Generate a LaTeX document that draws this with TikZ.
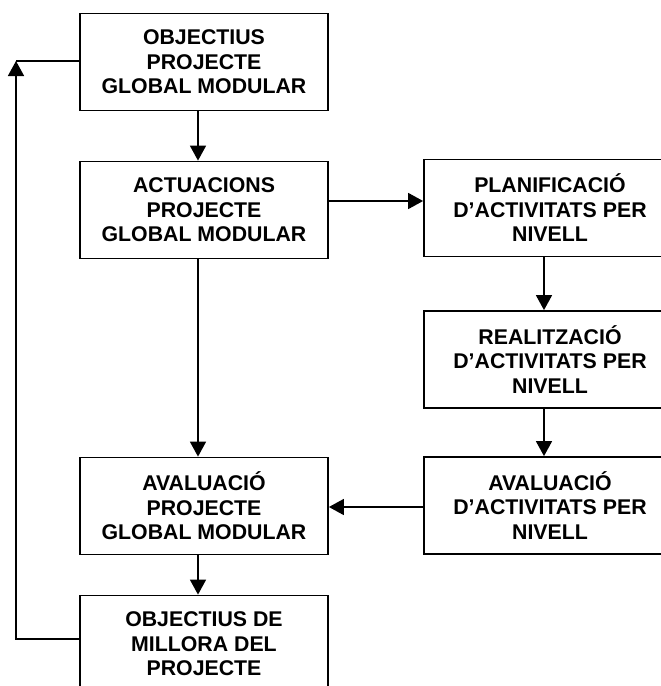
\documentclass[tikz,border=0pt]{standalone}
\usepackage{fontspec}
\setmainfont{Liberation Sans}
\usetikzlibrary{arrows.meta}
\begin{document}
\begin{tikzpicture}[x=1pt,y=-1pt,
  box/.style={draw=black, line width=1.8pt, fill=white, inner sep=0pt, align=center,
    font=\fontsize{21.3}{24.5}\selectfont\bfseries},
  lbox/.style={box, minimum width=248pt, minimum height=97pt},
  rbox/.style={box, minimum width=252pt, minimum height=97pt},
  conn/.style={line width=1.6pt, -{Triangle[length=15pt,width=16pt]}},
  plain/.style={line width=1.6pt}]
\useasboundingbox (0,0) rectangle (661,686);
\clip (0,0) rectangle (661,686);
\node[lbox] (b1) at (204,62) {OBJECTIUS\\PROJECTE\\GLOBAL MODULAR};
\node[lbox] (b2) at (204,210) {ACTUACIONS\\PROJECTE\\GLOBAL MODULAR};
\node[rbox] (b3) at (550,208) {PLANIFICACIÓ\\D’ACTIVITATS PER\\NIVELL};
\node[rbox] (b4) at (550,359.5) {REALITZACIÓ\\D’ACTIVITATS PER\\NIVELL};
\node[rbox] (b5) at (550,505.5) {AVALUACIÓ\\D’ACTIVITATS PER\\NIVELL};
\node[lbox] (b6) at (204,506) {AVALUACIÓ\\PROJECTE\\GLOBAL MODULAR};
\node[lbox] (b7) at (204,644) {OBJECTIUS DE\\MILLORA DEL\\PROJECTE};
\coordinate (fb) at (16,61);
\draw[conn] ([xshift=-6pt]b1.south) -- ([xshift=-6pt]b2.north);
\draw[conn] ([yshift=9pt]b2.east) -- ([yshift=9pt]b2.east -| b3.west);
\draw[conn] ([xshift=-6pt]b3.south) -- ([xshift=-6pt]b4.north);
\draw[conn] ([xshift=-6pt]b4.south) -- ([xshift=-6pt]b5.north);
\draw[conn] ([yshift=-1.5pt]b5.west) -- ([yshift=-1.5pt]b5.west -| b6.east);
\draw[conn] ([xshift=-6pt]b2.south) -- ([xshift=-6pt]b6.north);
\draw[conn] ([xshift=-6pt]b6.south) -- ([xshift=-6pt]b7.north);
\draw[conn] ([yshift=5pt]b7.west) -| (fb);
\draw[plain] (fb) -- (fb -| b1.west);
\end{tikzpicture}
\end{document}
